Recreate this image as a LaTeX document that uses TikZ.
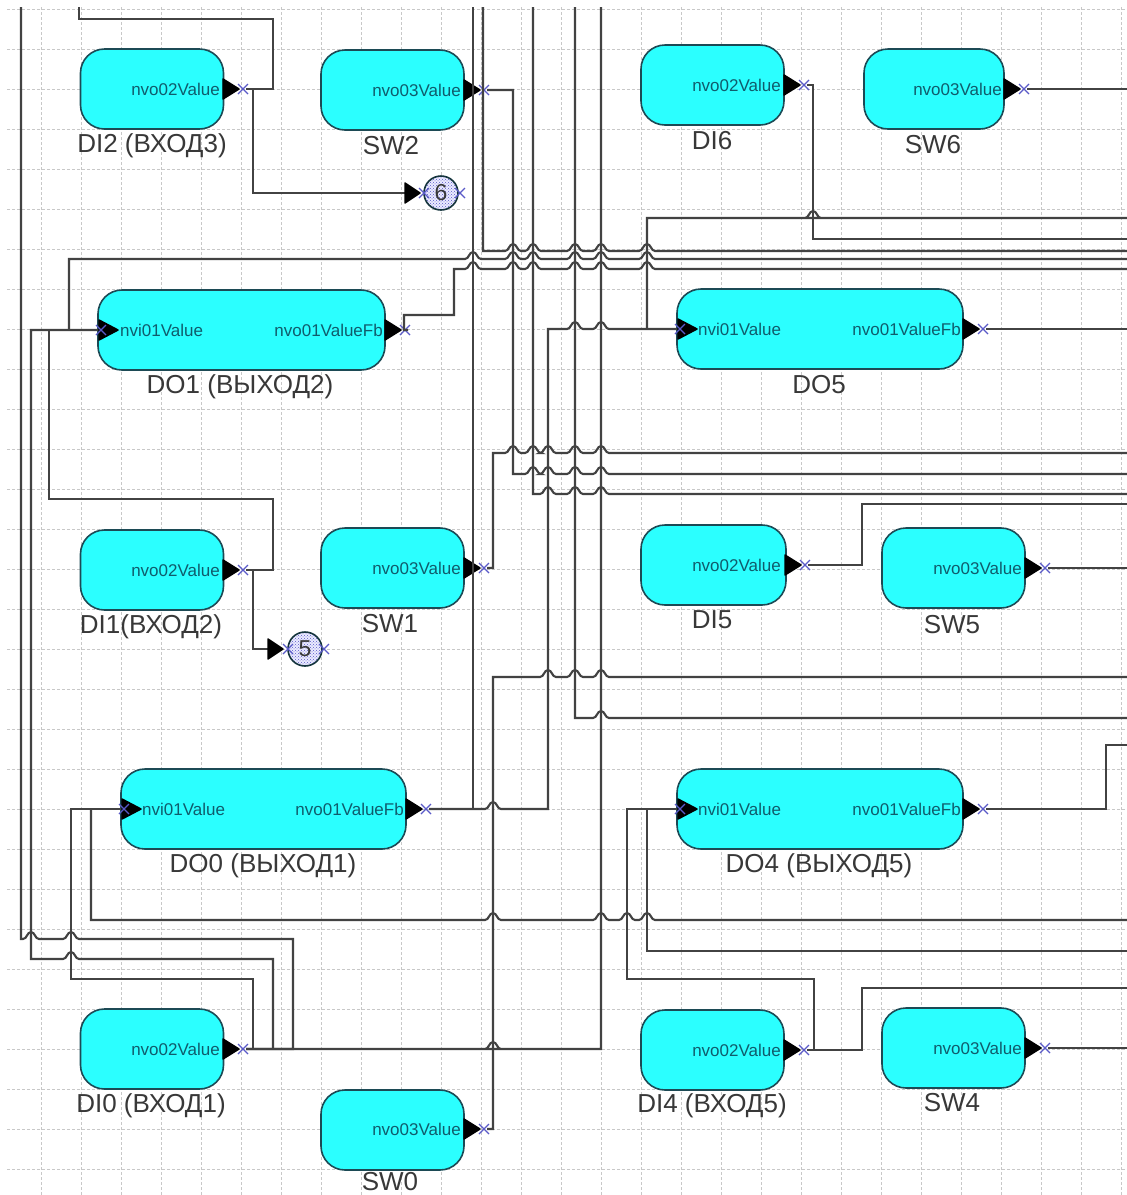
\documentclass[tikz,border=0pt]{standalone}
\usepackage{fontspec}
\setmainfont{Liberation Sans}
\usetikzlibrary{patterns}
\definecolor{boxfill}{HTML}{2BFFFF}
\definecolor{boxline}{HTML}{1C4A55}
\definecolor{wirecol}{HTML}{424242}
\definecolor{gridcol}{HTML}{C8C8C8}
\definecolor{markcol}{HTML}{5A5AC8}
\definecolor{portcol}{HTML}{105C6C}
\definecolor{labelcol}{HTML}{383838}
\tikzset{
  gridline/.style={draw=gridcol,line width=1pt,dash pattern=on 3pt off 2pt},
  wire/.style={draw=wirecol,line width=2.1pt,line join=miter},
  blk/.style={draw=boxline,fill=boxfill,line width=1.6pt,rounded corners=24pt,inner sep=0pt,minimum height=80pt},
  namelabel/.style={font=\fontsize{26}{26}\selectfont,text=labelcol,inner sep=0pt},
  porttext/.style={font=\fontsize{17}{17}\selectfont,text=portcol,inner sep=0pt},
  tri/.style={fill=black,draw=black,line width=1.5pt,line join=round},
  xmark/.style={draw=markcol,line width=1.1pt},
  off/.style={circle,draw=boxline!70!black,line width=1.6pt,minimum size=34pt,inner sep=0pt,font=\fontsize{23}{23}\selectfont,text=labelcol}
}
\newcommand{\br}[2]{-- (#1-8,#2) .. controls (#1-4,#2) and (#1-4,#2-7) .. (#1,#2-7) .. controls (#1+4,#2-7) and (#1+4,#2) .. (#1+8,#2)}
\newcommand{\crossmark}[2]{\draw[xmark] (#1-5,#2-5) -- (#1+5,#2+5) (#1-5,#2+5) -- (#1+5,#2-5);}
\newcommand{\outp}[3]{\fill[tri] (#2,#3-10) -- (#2+16,#3) -- (#2,#3+10) -- cycle; \crossmark{#2+20}{#3} \coordinate (#1) at (#2+23,#3);}
\newcommand{\inp}[3]{\fill[tri] (#2,#3-10) -- (#2+19,#3) -- (#2,#3+10) -- cycle; \crossmark{#2+2}{#3} \coordinate (#1) at (#2,#3);}
\begin{document}
\begin{tikzpicture}[x=1pt,y=-1pt]
\useasboundingbox (0,0) rectangle (1127,1195);
\fill[white] (0,0) rectangle (1127,1195);
% grid
\foreach \gx in {0,...,27} {\draw[gridline] ({41.5+40*\gx},7) -- ({41.5+40*\gx},1195);}
\foreach \gy in {0,...,29} {\draw[gridline] (7,{9+40*\gy}) -- (1127,{9+40*\gy});}
% blocks
\node[blk,minimum width=143pt] (di2) at (152,89) {};
\node[blk,minimum width=143pt] (sw2) at (392.5,90) {};
\node[blk,minimum width=143pt] (di6) at (712.5,85) {};
\node[blk,minimum width=140pt] (sw6) at (934,89) {};
\node[blk,minimum width=287pt] (do1) at (241.5,330) {};
\node[blk,minimum width=286pt] (do5) at (820,329) {};
\node[blk,minimum width=145pt] (di5) at (713.5,565) {};
\node[blk,minimum width=143pt] (sw5) at (953.5,568) {};
\node[blk,minimum width=143pt] (di1) at (152,570) {};
\node[blk,minimum width=143pt] (sw1) at (392.5,568) {};
\node[blk,minimum width=285pt] (do0) at (263.5,809) {};
\node[blk,minimum width=286pt] (do4) at (820,809) {};
\node[blk,minimum width=143pt] (di0) at (152,1049) {};
\node[blk,minimum width=143pt] (di4) at (712.5,1050) {};
\node[blk,minimum width=143pt] (sw4) at (953.5,1048) {};
\node[blk,minimum width=143pt] (sw0) at (392.5,1130) {};
% port texts
\node[porttext,anchor=east] (t1) at (220,89) {nvo02Value};
\node[porttext,anchor=east] (t2) at (461,90) {nvo03Value};
\node[porttext,anchor=east] (t3) at (781,85) {nvo02Value};
\node[porttext,anchor=east] (t4) at (1002,89) {nvo03Value};
\node[porttext,anchor=west] (t5) at (120,330) {nvi01Value};
\node[porttext,anchor=east] (t6) at (383,330) {nvo01ValueFb};
\node[porttext,anchor=west] (t7) at (698,329) {nvi01Value};
\node[porttext,anchor=east] (t8) at (961,329) {nvo01ValueFb};
\node[porttext,anchor=east] (t9) at (781,565) {nvo02Value};
\node[porttext,anchor=east] (t10) at (1022,568) {nvo03Value};
\node[porttext,anchor=east] (t11) at (220,570) {nvo02Value};
\node[porttext,anchor=east] (t12) at (461,568) {nvo03Value};
\node[porttext,anchor=west] (t13) at (142,809) {nvi01Value};
\node[porttext,anchor=east] (t14) at (404,809) {nvo01ValueFb};
\node[porttext,anchor=west] (t15) at (698,809) {nvi01Value};
\node[porttext,anchor=east] (t16) at (961,809) {nvo01ValueFb};
\node[porttext,anchor=east] (t17) at (220,1049) {nvo02Value};
\node[porttext,anchor=east] (t18) at (781,1050) {nvo02Value};
\node[porttext,anchor=east] (t19) at (1022,1048) {nvo03Value};
\node[porttext,anchor=east] (t20) at (461,1129) {nvo03Value};
% names
\node[namelabel] (n1) at (152,146) {DI2 (ВХОД3)};
\node[namelabel] (n2) at (391,146) {SW2};
\node[namelabel] (n3) at (712,141) {DI6};
\node[namelabel] (n4) at (933,145) {SW6};
\node[namelabel] (n5) at (240,387) {DO1 (ВЫХОД2)};
\node[namelabel] (n6) at (819,385) {DO5};
\node[namelabel] (n7) at (712,620) {DI5};
\node[namelabel] (n8) at (952,625) {SW5};
\node[namelabel] (n9) at (151,627) {DI1(ВХОД2)};
\node[namelabel] (n10) at (390,624) {SW1};
\node[namelabel] (n11) at (263,866) {DO0 (ВЫХОД1)};
\node[namelabel] (n12) at (819,866) {DO4 (ВЫХОД5)};
\node[namelabel] (n13) at (151,1106) {DI0 (ВХОД1)};
\node[namelabel] (n14) at (712,1106) {DI4 (ВХОД5)};
\node[namelabel] (n15) at (952,1103) {SW4};
\node[namelabel] (n16) at (390,1182) {SW0};
% output ports
\outp{di2o}{223}{89}
\outp{sw2o}{464}{90}
\outp{di6o}{784}{85}
\outp{sw6o}{1004}{89}
\outp{do1o}{385}{330}
\outp{do5o}{963}{329}
\outp{di5o}{785}{565}
\outp{sw5o}{1025}{568}
\outp{di1o}{223}{570}
\outp{sw1o}{464}{568}
\outp{do0o}{406}{809}
\outp{do4o}{963}{809}
\outp{di0o}{223}{1049}
\outp{di4o}{784}{1050}
\outp{sw4o}{1025}{1048}
\outp{sw0o}{464}{1129}
% off-page connectors
\node[off,fill=blue!8] (c6) at (441,193) {};
\fill[pattern=crosshatch dots,pattern color=markcol] (c6) circle (16);
\node[font=\fontsize{23}{23}\selectfont,text=labelcol,inner sep=0pt] (c6t) at (441,193) {6};
\node[off,fill=blue!8] (c5) at (305,649) {};
\fill[pattern=crosshatch dots,pattern color=markcol] (c5) circle (16);
\node[font=\fontsize{23}{23}\selectfont,text=labelcol,inner sep=0pt] (c5t) at (305,649) {5};
\crossmark{424}{193}\crossmark{460}{193}
\crossmark{288}{649}\crossmark{324}{649}
\coordinate (c6i) at (405,193);
\coordinate (c5i) at (268,649);
% input ports
\coordinate (do1i) at (98,330);
\coordinate (do5i) at (677,329);
\coordinate (do0i) at (121,809);
\coordinate (do4i) at (677,809);
% free ends
\foreach \tx in {21,473,483,533,575,601} {\coordinate (top\tx) at (\tx,7);}
\foreach \ey in {89,218,239,251,259,269,329,453,474,494,504,568,677,718,745,920,951,988,1048} {\coordinate (edge\ey) at (1127,\ey);}
% wires left side
\draw[wire] (top21) -- (21,939) \br{31}{939} \br{71}{939} -- (293,939) -- (293,1049) -- (di0o);
\draw[wire] (do1i) -- (31,330) -- (31,959) \br{71}{959} -- (273,959) -- (273,1049);
\draw[wire] (do0i) -- (71,809) -- (71,979) -- (253,979) -- (253,1049);
\draw[wire] (91,809) -- (91,920) \br{493}{920} \br{601}{920} \br{627}{920} \br{647}{920} -- (edge920);
\draw[wire] (69,330) -- (69,259) \br{473}{259} \br{513}{259} \br{533}{259} \br{575}{259} \br{601}{259} \br{647}{259} -- (edge259);
\draw[wire] (49,330) -- (49,499) -- (273,499) -- (273,570) -- (di1o);
\draw[wire] (253,570) -- (253,649) -- (c5i);
\draw[wire] (79,7) -- (79,19) -- (273,19) -- (273,89) -- (di2o);
\draw[wire] (253,89) -- (253,193) -- (c6i);
% verticals from the top
\draw[wire] (top473) -- (473,809);
\draw[wire] (top483) -- (483,251) \br{513}{251} \br{533}{251} \br{575}{251} \br{601}{251} \br{647}{251} -- (edge251);
\draw[wire] (sw2o) -- (513,90) -- (513,474) \br{533}{474} \br{548}{474} \br{575}{474} \br{601}{474} -- (edge474);
\draw[wire] (top533) -- (533,494) \br{548}{494} \br{575}{494} \br{601}{494} -- (edge494);
\draw[wire] (top575) -- (575,718) \br{601}{718} -- (edge718);
\draw[wire] (top601) -- (601,1049) -- (565,1049) \br{493}{1049} -- (di0o);
% DO1 output
\draw[wire] (do1o) -- (404,330) -- (404,315) -- (454,315) -- (454,269) \br{473}{269} \br{513}{269} \br{533}{269} \br{575}{269} \br{601}{269} \br{647}{269} -- (edge269);
% DO5 input
\draw[wire] (do0o) \br{493}{809} -- (548,809) -- (548,329) \br{575}{329} \br{601}{329} -- (do5i);
\draw[wire] (edge218) \br{813}{218} -- (647,218) -- (647,329);
\draw[wire] (di6o) -- (813,85) -- (813,239) -- (edge239);
\draw[wire] (sw6o) -- (edge89);
\draw[wire] (do5o) -- (edge329);
% SW1, SW0
\draw[wire] (sw1o) -- (493,568) -- (493,453) \br{513}{453} \br{533}{453} \br{548}{453} \br{575}{453} \br{601}{453} -- (edge453);
\draw[wire] (sw0o) -- (493,1129) -- (493,677) \br{548}{677} \br{575}{677} \br{601}{677} -- (edge677);
% right side
\draw[wire] (di5o) -- (862,565) -- (862,504) -- (edge504);
\draw[wire] (sw5o) -- (edge568);
\draw[wire] (do4o) -- (1106,809) -- (1106,745) -- (edge745);
\draw[wire] (do4i) -- (627,809) -- (627,979) -- (814,979) -- (814,1050) -- (di4o);
\draw[wire] (647,809) -- (647,951) -- (edge951);
\draw[wire] (di4o) -- (862,1050) -- (862,988) -- (edge988);
\draw[wire] (sw4o) -- (edge1048);
% input triangles and off-page triangles
\inp{do1a}{99}{330}
\inp{do5a}{678}{329}
\inp{do0a}{122}{809}
\inp{do4a}{678}{809}
\fill[tri] (c6i) ++(0,-10) -- ++(15,10) -- ++(-15,10) -- cycle;
\fill[tri] (c5i) ++(0,-10) -- ++(15,10) -- ++(-15,10) -- cycle;
\end{tikzpicture}
\end{document}
